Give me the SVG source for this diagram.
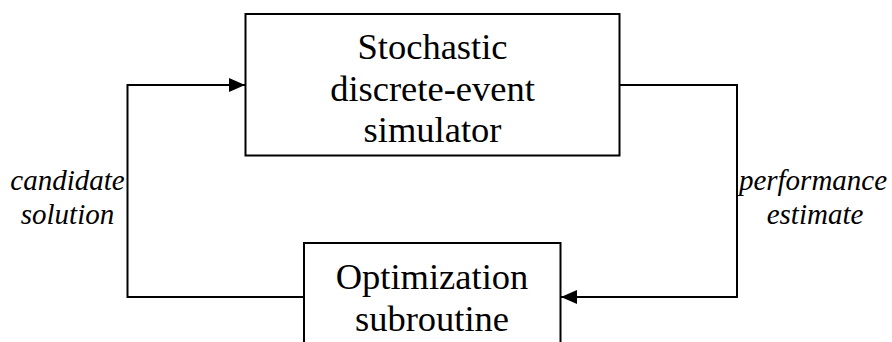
<svg xmlns="http://www.w3.org/2000/svg" width="892" height="342" viewBox="0 0 892 342">
  <style>
    .box { fill: #ffffff; stroke: #000000; stroke-width: 2; }
    .wire { fill: none; stroke: #000000; stroke-width: 2; }
    .title { font-family: "Liberation Serif", "Times New Roman", serif; font-size: 36.5px; fill: #000000; text-anchor: middle; }
    .tag { font-family: "Liberation Serif", "Times New Roman", serif; font-size: 29px; font-style: italic; fill: #000000; text-anchor: middle; }
  </style>
  <defs>
    <marker id="head" viewBox="0 0 16 14" refX="16" refY="7" markerWidth="16" markerHeight="14" markerUnits="userSpaceOnUse" orient="auto">
      <path d="M0,0 L16,7 L0,14 Z" fill="#000000"/>
    </marker>
  </defs>
  <rect width="892" height="342" fill="#ffffff"/>

  <g id="connectors">
    <!-- optimizer output fed back into the simulator -->
    <path class="wire" d="M304,297 H127.5 V85 H245" marker-end="url(#head)"/>
    <!-- simulator estimate returned to the optimizer -->
    <path class="wire" d="M619.5,85 H737 V297 H561" marker-end="url(#head)"/>
  </g>

  <g id="simulator">
    <rect class="box" x="245.5" y="14" width="374" height="141.5"/>
    <text class="title" x="432.5" y="59">Stochastic</text>
    <text class="title" x="432.5" y="101">discrete-event</text>
    <text class="title" x="432.5" y="142">simulator</text>
  </g>

  <g id="optimizer">
    <rect class="box" x="304" y="243" width="256.5" height="120"/>
    <text class="title" x="432" y="289">Optimization</text>
    <text class="title" x="432" y="331">subroutine</text>
  </g>

  <g id="label-candidate">
    <text class="tag" x="67.5" y="190">candidate</text>
    <text class="tag" x="67.5" y="224">solution</text>
  </g>

  <g id="label-performance">
    <text class="tag" x="813" y="190">performance</text>
    <text class="tag" x="815" y="224">estimate</text>
  </g>
</svg>
